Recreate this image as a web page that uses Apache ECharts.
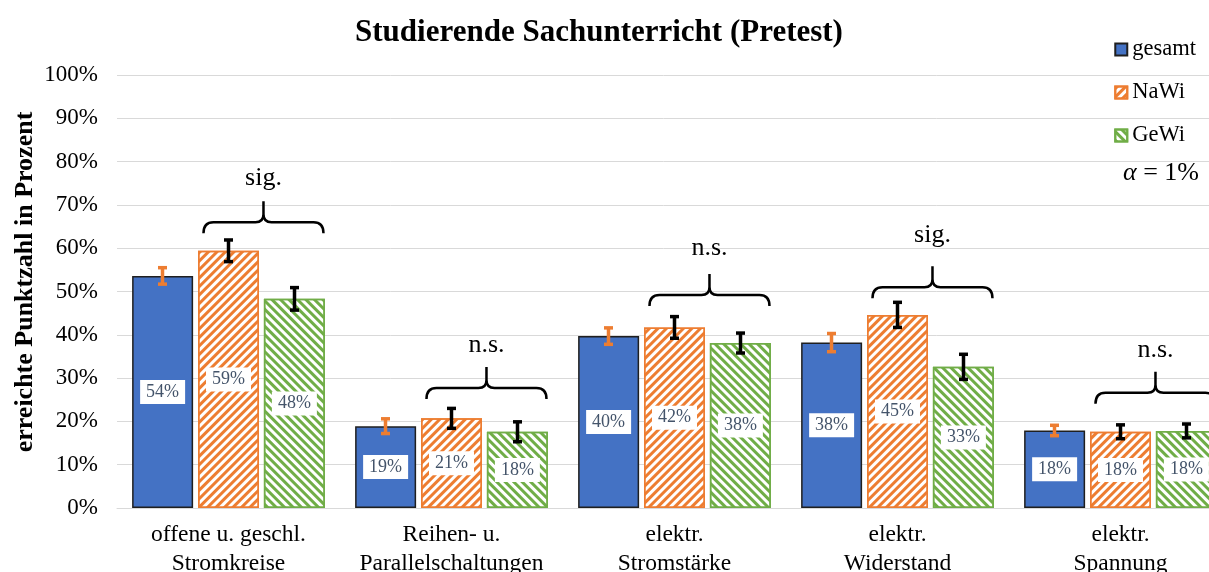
<!DOCTYPE html>
<html>
<head>
<meta charset="utf-8">
<script src="https://cdn.jsdelivr.net/npm/echarts@6/dist/echarts.min.js"></script>
<style>
html,body{margin:0;padding:0;background:#fff;}
#chart{width:1209px;height:572px;}
</style>
</head>
<body>
<div id="chart"></div>
<script>
const categories = ['offene u. geschl.\nStromkreise', 'Reihen- u.\nParallelschaltungen', 'elektr.\nStromstärke', 'elektr.\nWiderstand', 'elektr.\nSpannung'];
const seriesNames = ['gesamt', 'NaWi', 'GeWi'];
const gesamt = [53.6, 18.9, 39.7, 38.2, 17.9];
const nawi = [59.4, 20.7, 41.7, 44.6, 17.6];
const gewi = [48.3, 17.6, 38.1, 32.6, 17.8];
const errGesamt = [1.9, 1.7, 1.9, 2.1, 1.2];
const errNawi = [2.5, 2.3, 2.5, 2.9, 1.6];
const errGewi = [2.6, 2.3, 2.3, 2.9, 1.6];
const braceLabels = ['sig.', 'n.s.', 'n.s.', 'sig.', 'n.s.'];
const braceLevel = [66.0, 27.7, 49.2, 51.0, 26.6];
const braceTextLevel = [76.2, 37.6, 60.0, 63.0, 36.5];
const yTicks = [0, 10, 20, 30, 40, 50, 60, 70, 80, 90, 100];

const FONT = '"Liberation Serif", "Times New Roman", serif';
const BAR_W = 61;
const BAR_STEP = 66;

const chart = echarts.init(document.getElementById('chart'));

function errData(vals, errs) {
  return vals.map((v, i) => [i, v - errs[i], v + errs[i]]);
}
function errSeries(name, vals, errs, k, color) {
  return {
    type: 'custom',
    name: name + '_err',
    z: 5,
    silent: true,
    data: errData(vals, errs),
    renderItem: function (params, api) {
      const c = api.value(0);
      const lo = api.coord([c, api.value(1)]);
      const hi = api.coord([c, api.value(2)]);
      const x = lo[0] + (k - 1) * BAR_STEP;
      const cap = 4.5;
      const st = { stroke: color, lineWidth: 3.5 };
      return {
        type: 'group',
        children: [
          { type: 'line', shape: { x1: x, y1: lo[1], x2: x, y2: hi[1] }, style: st },
          { type: 'line', shape: { x1: x - cap, y1: lo[1], x2: x + cap, y2: lo[1] }, style: st },
          { type: 'line', shape: { x1: x - cap, y1: hi[1], x2: x + cap, y2: hi[1] }, style: st }
        ]
      };
    }
  };
}

const labelOpt = {
  show: true,
  position: 'inside',
  backgroundColor: '#fff',
  padding: [3, 6],
  color: '#44546a',
  fontSize: 18,
  fontFamily: FONT,
  formatter: p => Math.round(p.value) + '%'
};

const option = {
  backgroundColor: '#fff',
  animation: false,
  title: {
    text: 'Studierende Sachunterricht (Pretest)',
    left: 594,
    textAlign: 'center',
    top: 12,
    textStyle: { fontFamily: FONT, fontSize: 31, fontWeight: 'bold', color: '#000' }
  },
  legend: {
    orient: 'vertical',
    right: 8,
    top: 33,
    icon: 'rect',
    itemWidth: 12,
    itemHeight: 12,
    itemGap: 20,
    data: seriesNames,
    textStyle: { fontFamily: FONT, fontSize: 22.5, color: '#000' }
  },
  grid: { left: 117, right: -23, top: 75, bottom: 64, containLabel: false, outerBoundsMode: 'none' },
  xAxis: {
    type: 'category',
    data: categories,
    axisTick: { show: false },
    axisLine: { lineStyle: { color: '#d9d9d9', width: 1 } },
    axisLabel: { interval: 0, margin: 12, fontFamily: FONT, fontSize: 23.5, color: '#000', lineHeight: 29 }
  },
  yAxis: {
    type: 'value',
    min: 0,
    max: 100,
    interval: 10,
    axisLine: { show: false },
    axisTick: { show: false },
    splitLine: { lineStyle: { color: '#d9d9d9', width: 1 } },
    axisLabel: { margin: 19, fontFamily: FONT, fontSize: 23, color: '#000', formatter: v => (yTicks.indexOf(v) >= 0 ? v + '%' : '') }
  },
  graphic: [
    {
      type: 'text',
      x: 25, y: 282,
      rotation: Math.PI / 2,
      style: { text: 'erreichte Punktzahl in Prozent', fontFamily: FONT, fontSize: 26, fontWeight: 'bold', fill: '#000', align: 'center', verticalAlign: 'middle' }
    },
    {
      type: 'text',
      right: 10, top: 160,
      style: {
        text: '{a|α} = 1%',
        fontFamily: FONT, fontSize: 26, fill: '#000',
        rich: { a: { fontStyle: 'italic', fontFamily: FONT, fontSize: 26 } }
      }
    }
  ],
  series: [
    {
      name: 'gesamt', type: 'bar', data: gesamt, barWidth: BAR_W, barGap: '8%',
      itemStyle: { color: '#4472c4', borderColor: '#1f1f1f', borderWidth: 1.5 },
      label: labelOpt
    },
    {
      name: 'NaWi', type: 'bar', data: nawi, barWidth: BAR_W, barGap: '8%',
      itemStyle: {
        color: '#fff', borderColor: '#ed7d31', borderWidth: 1.5,
        decal: { symbol: 'rect', symbolSize: 1, dashArrayX: [1, 0], dashArrayY: [3, 3], rotation: -Math.PI / 4, color: '#ed7d31' }
      },
      label: labelOpt
    },
    {
      name: 'GeWi', type: 'bar', data: gewi, barWidth: BAR_W, barGap: '8%',
      itemStyle: {
        color: '#fff', borderColor: '#70ad47', borderWidth: 1.5,
        decal: { symbol: 'rect', symbolSize: 1, dashArrayX: [1, 0], dashArrayY: [3, 3], rotation: Math.PI / 4, color: '#70ad47' }
      },
      label: labelOpt
    },
    errSeries('gesamt', gesamt, errGesamt, 0, '#ed7d31'),
    errSeries('NaWi', nawi, errNawi, 1, '#000'),
    errSeries('GeWi', gewi, errGewi, 2, '#000'),
    {
      type: 'custom',
      name: 'braces',
      z: 6,
      silent: true,
      data: braceLevel.map((v, i) => [i, v, braceTextLevel[i]]),
      renderItem: function (params, api) {
        const c = api.value(0);
        const p = api.coord([c, api.value(1)]);
        const t = api.coord([c, api.value(2)]);
        const xc = p[0] + BAR_STEP * 0.53;
        const y0 = p[1];
        const hw = 60;
        const xL = xc - hw, xR = xc + hw;
        const d = 'M' + xL + ',' + (y0 + 11) + ' Q' + xL + ',' + y0 + ' ' + (xL + 10) + ',' + y0 +
          ' L' + (xc - 8) + ',' + y0 + ' Q' + xc + ',' + y0 + ' ' + xc + ',' + (y0 - 8) +
          ' L' + xc + ',' + (y0 - 21) +
          ' M' + xc + ',' + (y0 - 8) + ' Q' + xc + ',' + y0 + ' ' + (xc + 8) + ',' + y0 +
          ' L' + (xR - 10) + ',' + y0 + ' Q' + xR + ',' + y0 + ' ' + xR + ',' + (y0 + 11);
        return {
          type: 'group',
          children: [
            { type: 'path', shape: { pathData: d }, style: { stroke: '#000', lineWidth: 2.5, fill: null } },
            { type: 'text', x: xc, y: t[1], style: { text: braceLabels[c], fontFamily: FONT, fontSize: 26, fill: '#000', align: 'center', verticalAlign: 'middle' } }
          ]
        };
      }
    }
  ]
};
chart.setOption(option);
</script>
</body>
</html>
